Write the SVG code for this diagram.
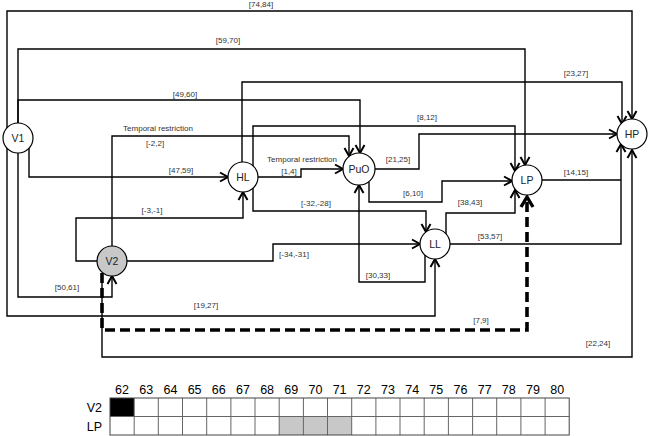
<svg xmlns="http://www.w3.org/2000/svg" width="650" height="436" viewBox="0 0 650 436">
<style>
.e{fill:none;stroke:#000;stroke-width:1.4;marker-end:url(#a)}
.d{fill:none;stroke:#000;stroke-width:3.6;stroke-dasharray:10,5;marker-end:url(#ad)}
.n{fill:#fff;stroke:#000;stroke-width:1.2}
.nt{font-family:"Liberation Sans",Arial,sans-serif;font-size:10.5px;text-anchor:middle;fill:#222}
.l{font-family:"Liberation Sans",Arial,sans-serif;font-size:8px;text-anchor:middle;fill:#333}
.h{font-family:"Liberation Sans",Arial,sans-serif;font-size:12.5px;text-anchor:middle;fill:#000}
</style>
<defs>
<marker id="a" markerUnits="userSpaceOnUse" markerWidth="14" markerHeight="14" viewBox="-1 -1 12 14" refX="9" refY="5" orient="auto">
<path d="M1,0.5 L9,5 L1,9.5" fill="none" stroke="#000" stroke-width="2"/>
</marker>
<marker id="ad" markerUnits="userSpaceOnUse" markerWidth="18" markerHeight="18" viewBox="-2 -2 16 18" refX="11" refY="6" orient="auto">
<path d="M1,0 L11,6 L1,12" fill="none" stroke="#000" stroke-width="3.4"/>
</marker>
</defs>
<g id="connectors">
<path class="e" d="M7,128 V11 H632 V119"/>
<path class="e" d="M18,123 V49 H525 V165"/>
<path class="e" d="M18,123 V100 H360 V153"/>
<path class="e" d="M29,148 V177 H228"/>
<path class="e" d="M18,153 V297 H112 V276"/>
<path class="e" d="M7,148 V316 H435 V259"/>
<path class="e" d="M112,246 V136 H349 V156"/>
<path class="e" d="M97,261 H76 V218 H243 V192"/>
<path class="e" d="M127,261 H273 V244 H420"/>
<path class="d" d="M102,273 V330 H527 V197"/>
<path class="e" d="M102,273 V357 H632 V150"/>
<path class="e" d="M242,162 V82 H622 V124"/>
<path class="e" d="M253,166 V126 H515 V171"/>
<path class="e" d="M258,177 H301 V169 H343"/>
<path class="e" d="M253,188 V211 H426 V232"/>
<path class="e" d="M375,169 H419 V134 H617"/>
<path class="e" d="M369,182 V202 H442 V181 H512"/>
<path class="e" d="M425,255 V282 H359 V185"/>
<path class="e" d="M446,234 V213 H515 V190"/>
<path class="e" d="M450,244 H621 V144"/>
<path fill="none" stroke="#000" stroke-width="1.4" d="M542,180 H621"/>
</g>
<g id="labels">
<text class="l" x="261" y="7">[74,84]</text>
<text class="l" x="228" y="43">[59,70]</text>
<text class="l" x="185" y="97">[49,60]</text>
<text class="l" x="158" y="131">Temporal restriction</text>
<text class="l" x="155" y="146">[-2,2]</text>
<text class="l" x="181" y="173">[47,59]</text>
<text class="l" x="152" y="213">[-3,-1]</text>
<text class="l" x="67" y="290">[50,61]</text>
<text class="l" x="206" y="308">[19,27]</text>
<text class="l" x="294" y="257">[-34,-31]</text>
<text class="l" x="316" y="206">[-32,-28]</text>
<text class="l" x="302" y="162">Temporal restriction</text>
<text class="l" x="289" y="174">[1,4]</text>
<text class="l" x="398" y="162">[21,25]</text>
<text class="l" x="427" y="120">[8,12]</text>
<text class="l" x="576" y="76">[23,27]</text>
<text class="l" x="413" y="196">[6,10]</text>
<text class="l" x="470" y="205">[38,43]</text>
<text class="l" x="576" y="175">[14,15]</text>
<text class="l" x="490" y="239">[53,57]</text>
<text class="l" x="378" y="278">[30,33]</text>
<text class="l" x="481" y="323">[7,9]</text>
<text class="l" x="598" y="346">[22,24]</text>
</g>
<g id="V1"><circle class="n" cx="18" cy="138" r="15"/><text class="nt" x="18" y="142">V1</text></g>
<g id="V2"><circle class="n" cx="112" cy="261" r="15" style="fill:#c8c8c8"/><text class="nt" x="112" y="265">V2</text></g>
<g id="HL"><circle class="n" cx="243" cy="177" r="15"/><text class="nt" x="243" y="181">HL</text></g>
<g id="PuO"><circle class="n" cx="359" cy="169" r="16"/><text class="nt" x="359" y="173">PuO</text></g>
<g id="LP"><circle class="n" cx="527" cy="180" r="15"/><text class="nt" x="527" y="184">LP</text></g>
<g id="LL"><circle class="n" cx="435" cy="244" r="15"/><text class="nt" x="435" y="248">LL</text></g>
<g id="HP"><circle class="n" cx="632" cy="134" r="15"/><text class="nt" x="632" y="138">HP</text></g>
<g id="table">
<text class="h" x="102" y="412" style="text-anchor:end">V2</text>
<text class="h" x="102" y="431" style="text-anchor:end">LP</text>
<text class="h" x="122" y="394">62</text><text class="h" x="146.3" y="394">63</text><text class="h" x="170.4" y="394">64</text><text class="h" x="194.6" y="394">65</text><text class="h" x="218.8" y="394">66</text><text class="h" x="243" y="394">67</text><text class="h" x="267.1" y="394">68</text><text class="h" x="291.3" y="394">69</text><text class="h" x="315.5" y="394">70</text><text class="h" x="339.6" y="394">71</text><text class="h" x="363.8" y="394">72</text><text class="h" x="388" y="394">73</text><text class="h" x="412.2" y="394">74</text><text class="h" x="436.3" y="394">75</text><text class="h" x="460.5" y="394">76</text><text class="h" x="484.7" y="394">77</text><text class="h" x="508.8" y="394">78</text><text class="h" x="533" y="394">79</text><text class="h" x="557.2" y="394">80</text>
<rect x="110" y="398" width="459.2" height="37" fill="#fff"/>
<rect x="110" y="398" width="24.17" height="18.5" fill="#000"/>
<rect x="279.2" y="416.5" width="72.5" height="18.5" fill="#c8c8c8"/>
<path fill="none" stroke="#666" stroke-width="1" d="M110,416.5 H569.2 M134.2,398 V435 M158.3,398 V435 M182.5,398 V435 M206.7,398 V435 M230.9,398 V435 M255,398 V435 M279.2,398 V435 M303.4,398 V435 M327.5,398 V435 M351.7,398 V435 M375.9,398 V435 M400,398 V435 M424.2,398 V435 M448.4,398 V435 M472.6,398 V435 M496.7,398 V435 M520.9,398 V435 M545.1,398 V435"/>
<rect x="110" y="398" width="459.2" height="37" fill="none" stroke="#444" stroke-width="1"/>
</g>
</svg>
